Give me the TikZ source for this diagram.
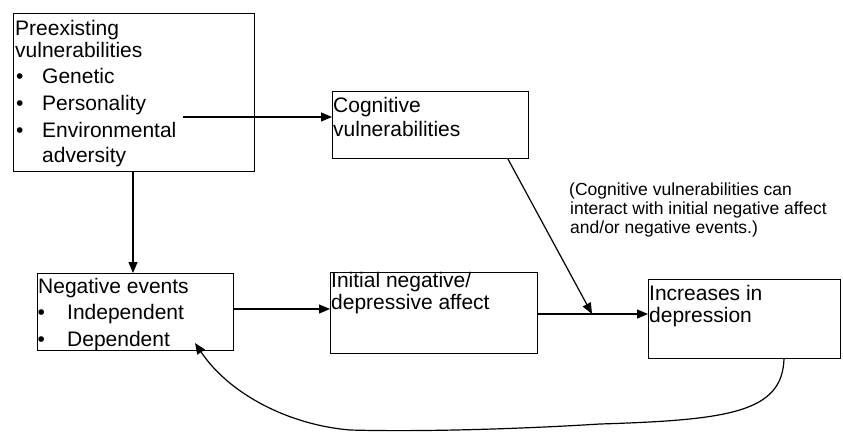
\documentclass[tikz,border=0pt]{standalone}
\usepackage{fontspec}
\setmainfont{Liberation Sans}
\usetikzlibrary{arrows.meta}
\begin{document}
\begin{tikzpicture}[x=1pt,y=-1pt,
  box/.style={draw,line width=1.1pt,inner sep=0pt,anchor=north west},
  txt/.style={anchor=base west,inner sep=0pt,font=\fontsize{21}{25}\selectfont},
  note/.style={anchor=base west,inner sep=0pt,font=\fontsize{17.5}{20}\selectfont},
  conn/.style={line width=1.2pt},
  arr/.style={line width=1.2pt,-{Triangle[length=11pt,width=9pt]}}]
\useasboundingbox (0,0) rectangle (843,431);
% boxes
\node[box,minimum width=241pt,minimum height=158pt] (b1) at (13,13) {};
\node[box,minimum width=196pt,minimum height=67pt] (b2) at (332,91) {};
\node[box,minimum width=196pt,minimum height=77pt] (b3) at (37,273) {};
\node[box,minimum width=207pt,minimum height=81pt] (b4) at (330,272) {};
\node[box,minimum width=192pt,minimum height=79pt] (b5) at (648,279) {};
% box 1 text
\node[txt] (t1a) at (15,35) {Preexisting};
\node[txt] (t1b) at (15,57) {vulnerabilities};
\node[txt] (t1c) at (16,83) {•};
\node[txt] (t1d) at (42,83) {Genetic};
\node[txt] (t1e) at (16,110) {•};
\node[txt] (t1f) at (42,110) {Personality};
\node[txt] (t1g) at (16,137) {•};
\node[txt] (t1h) at (42,137) {Environmental};
\node[txt] (t1i) at (42,162) {adversity};
% box 2 text
\node[txt] (t2a) at (333,112) {Cognitive};
\node[txt] (t2b) at (333,136) {vulnerabilities};
% box 3 text
\node[txt] (t3a) at (38,293) {Negative events};
\node[txt] (t3b) at (37.5,319) {•};
\node[txt] (t3c) at (67,319) {Independent};
\node[txt] (t3d) at (37.5,346) {•};
\node[txt] (t3e) at (67,346) {Dependent};
% box 4 text
\node[txt] (t4a) at (331,287) {Initial negative/};
\node[txt] (t4b) at (331,309) {depressive affect};
% box 5 text
\node[txt] (t5a) at (649,300) {Increases in};
\node[txt] (t5b) at (649,322) {depression};
% note
\node[note] (n1) at (569,195) {(Cognitive vulnerabilities can};
\node[note] (n2) at (570,214) {interact with initial negative affect};
\node[note] (n3) at (570,233) {and/or negative events.)};
% helper coordinates
\coordinate (p1) at (183,117);
\coordinate (c13) at (133,0);
\coordinate (r34) at (0,309);
\coordinate (j) at (592,314);
\coordinate (c2) at (508,0);
\coordinate (c5) at (784,0);
\coordinate (tip) at (195,343);
% connectors
\draw[arr] (p1) -- (p1 -| b2.west);
\draw[arr] (b1.south -| c13) -- (b3.north -| c13);
\draw[arr] (b3.east |- r34) -- (b4.west |- r34);
\draw[conn] (b4.east |- j) -- (j);
\draw[arr] (j) -- (j -| b5.west);
\draw[arr] (b2.south -| c2) -- (j);
\draw[arr] (b5.south -| c5) .. controls (782,412) and (730,420) .. (600,424)
  .. controls (520,429) and (420,432) .. (350,430)
  .. controls (290,425) and (230,395) .. (tip);
\end{tikzpicture}
\end{document}
